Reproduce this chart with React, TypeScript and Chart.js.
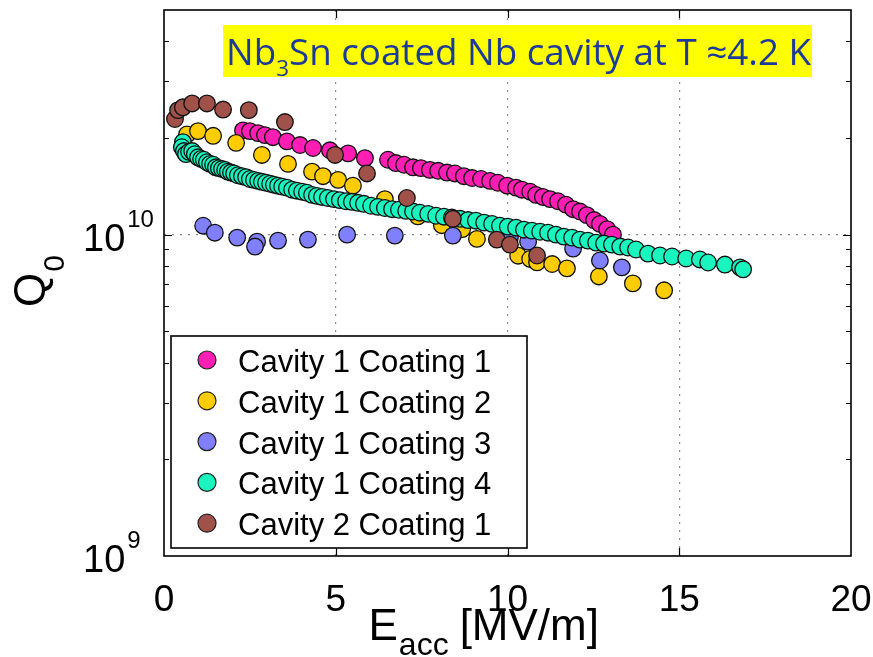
import React, { useEffect, useRef } from "react";
import { Chart, registerables } from "chart.js";

Chart.register(...registerables);

// ---------- data ----------
const SERIES_LABELS = [
  "Cavity 1 Coating 1",
  "Cavity 1 Coating 2",
  "Cavity 1 Coating 3",
  "Cavity 1 Coating 4",
  "Cavity 2 Coating 1",
];
const SERIES_COLORS = ["#FF1EB4", "#FFCC00", "#8080FF", "#1AF5C0", "#A0524A"];

const c1c1E = [2.30, 2.50, 2.74, 2.94, 3.17, 3.58, 3.96, 4.34, 4.83, 5.36, 5.85, 6.52, 6.75, 6.99, 7.25, 7.48, 7.74, 7.98, 8.24, 8.47, 8.73, 8.97, 9.23, 9.49, 9.72, 9.99, 10.25, 10.42, 10.66, 10.83, 11.03, 11.24, 11.47, 11.70, 11.91, 12.11, 12.31, 12.52, 12.69, 12.90, 13.07];
const c1c1Q = [2.11e10, 2.10e10, 2.07e10, 2.04e10, 2.01e10, 1.95e10, 1.90e10, 1.86e10, 1.83e10, 1.79e10, 1.73e10, 1.71e10, 1.67e10, 1.65e10, 1.62e10, 1.61e10, 1.59e10, 1.58e10, 1.56e10, 1.55e10, 1.52e10, 1.50e10, 1.49e10, 1.47e10, 1.45e10, 1.42e10, 1.40e10, 1.38e10, 1.36e10, 1.33e10, 1.31e10, 1.29e10, 1.27e10, 1.24e10, 1.20e10, 1.18e10, 1.15e10, 1.11e10, 1.08e10, 1.04e10, 1.00e10];

const c1c2E = [0.67, 0.99, 1.43, 2.10, 2.85, 3.61, 4.31, 4.63, 5.07, 5.50, 6.43, 7.39, 8.09, 8.68, 9.11, 10.31, 10.66, 10.86, 11.30, 11.73, 12.66, 13.65, 14.56];
const c1c2Q = [2.05e10, 2.10e10, 2.03e10, 1.93e10, 1.77e10, 1.66e10, 1.57e10, 1.52e10, 1.48e10, 1.42e10, 1.29e10, 1.14e10, 1.07e10, 1.04e10, 0.97e10, 0.86e10, 0.84e10, 0.82e10, 0.81e10, 0.785e10, 0.741e10, 0.705e10, 0.671e10];

const c1c3E = [1.14, 1.48, 2.13, 2.71, 2.65, 3.32, 4.19, 5.33, 6.72, 8.41, 10.07, 10.60, 11.91, 12.69, 13.33];
const c1c3Q = [1.066e10, 1.014e10, 0.979e10, 0.951e10, 0.918e10, 0.958e10, 0.965e10, 1.00e10, 0.993e10, 0.993e10, 0.979e10, 0.951e10, 0.905e10, 0.831e10, 0.791e10];

const c1c4E = [0.55, 0.52, 0.58, 0.64, 0.73, 0.82, 0.90, 0.99, 1.08, 1.16, 1.25, 1.34, 1.43, 1.51, 1.60, 1.69, 1.78, 1.86, 1.95, 2.04, 2.15, 2.27, 2.39, 2.50, 2.62, 2.74, 2.85, 2.97, 3.09, 3.20, 3.32, 3.44, 3.58, 3.73, 3.87, 4.02, 4.16, 4.31, 4.45, 4.60, 4.77, 4.95, 5.12, 5.30, 5.47, 5.65, 5.82, 6.03, 6.23, 6.43, 6.64, 6.84, 7.05, 7.25, 7.45, 7.69, 7.92, 8.15, 8.38, 8.62, 8.85, 9.08, 9.32, 9.55, 9.78, 10.01, 10.25, 10.48, 10.71, 10.95, 11.18, 11.41, 11.64, 11.88, 12.11, 12.34, 12.58, 12.81, 13.04, 13.28, 13.51, 13.74, 14.09, 14.44, 14.79, 15.20, 15.60, 15.84, 16.33, 16.77, 16.86];
const c1c4Q = [1.94e10, 1.87e10, 1.82e10, 1.78e10, 1.81e10, 1.82e10, 1.78e10, 1.74e10, 1.72e10, 1.71e10, 1.68e10, 1.66e10, 1.65e10, 1.62e10, 1.61e10, 1.60e10, 1.59e10, 1.57e10, 1.56e10, 1.55e10, 1.53e10, 1.52e10, 1.51e10, 1.49e10, 1.48e10, 1.47e10, 1.46e10, 1.45e10, 1.44e10, 1.43e10, 1.42e10, 1.41e10, 1.40e10, 1.38e10, 1.37e10, 1.36e10, 1.35e10, 1.33e10, 1.32e10, 1.31e10, 1.30e10, 1.29e10, 1.28e10, 1.27e10, 1.265e10, 1.256e10, 1.247e10, 1.23e10, 1.22e10, 1.21e10, 1.20e10, 1.195e10, 1.186e10, 1.18e10, 1.17e10, 1.16e10, 1.145e10, 1.137e10, 1.13e10, 1.12e10, 1.11e10, 1.105e10, 1.09e10, 1.08e10, 1.066e10, 1.059e10, 1.051e10, 1.036e10, 1.029e10, 1.021e10, 1.014e10, 1.00e10, 0.986e10, 0.979e10, 0.965e10, 0.958e10, 0.944e10, 0.938e10, 0.931e10, 0.918e10, 0.912e10, 0.899e10, 0.873e10, 0.861e10, 0.855e10, 0.843e10, 0.837e10, 0.819e10, 0.807e10, 0.791e10, 0.78e10];

const c2c1E = [0.32, 0.41, 0.55, 0.82, 1.25, 1.72, 2.47, 3.52, 4.98, 5.91, 7.07, 8.41, 9.69, 10.07, 10.86];
const c2c1Q = [2.29e10, 2.44e10, 2.49e10, 2.56e10, 2.56e10, 2.45e10, 2.44e10, 2.24e10, 1.77e10, 1.55e10, 1.30e10, 1.12e10, 0.965e10, 0.931e10, 0.861e10];

const SERIES_E = [c1c1E, c1c2E, c1c3E, c1c4E, c2c1E];
const SERIES_Q = [c1c1Q, c1c2Q, c1c3Q, c1c4Q, c2c1Q];

const X_MIN = 0;
const X_MAX = 20;
const X_STEP = 5;
const Y_MIN = 1e9;
const Y_MAX = 5e10;
const Y_TICKS = [1e9, 2e9, 3e9, 4e9, 5e9, 6e9, 7e9, 8e9, 9e9, 1e10, 2e10, 3e10, 4e10, 5e10];

const TITLE_PRE = "Nb";
const TITLE_SUB = "3";
const TITLE_POST = "Sn coated Nb cavity at T \u22484.2 K";

const SANS = '"Liberation Sans", Arial, Helvetica, sans-serif';

const isDecade = (v: number) => Math.abs(Math.log10(v) - Math.round(Math.log10(v))) < 1e-9;

const overlayPlugin = {
  id: "overlay",
  afterDraw(chart: any) {
    const ctx: CanvasRenderingContext2D = chart.ctx;
    const a = chart.chartArea;
    const xs = chart.scales.x;
    const ys = chart.scales.y;
    ctx.save();

    // inward ticks
    ctx.strokeStyle = "#000";
    ctx.lineWidth = 1.2;
    ctx.beginPath();
    xs.ticks.forEach((t: any) => {
      if (t.value <= xs.min || t.value >= xs.max) return;
      const px = Math.round(xs.getPixelForValue(t.value)) + 0.5;
      ctx.moveTo(px, a.bottom);
      ctx.lineTo(px, a.bottom - 8);
      ctx.moveTo(px, a.top);
      ctx.lineTo(px, a.top + 8);
    });
    ys.ticks.forEach((t: any) => {
      if (t.value <= ys.min || t.value >= ys.max) return;
      const py = Math.round(ys.getPixelForValue(t.value)) + 0.5;
      const len = isDecade(t.value) ? 8 : 5;
      ctx.moveTo(a.left, py);
      ctx.lineTo(a.left + len, py);
      ctx.moveTo(a.right, py);
      ctx.lineTo(a.right - len, py);
    });
    ctx.stroke();

    // frame
    ctx.lineWidth = 1.6;
    ctx.strokeRect(a.left, a.top, a.right - a.left, a.bottom - a.top);

    // x tick labels
    ctx.fillStyle = "#000";
    ctx.font = `37px ${SANS}`;
    ctx.textAlign = "center";
    ctx.textBaseline = "alphabetic";
    xs.ticks.forEach((t: any) => {
      ctx.fillText(String(t.value), xs.getPixelForValue(t.value), a.bottom + 55);
    });

    // y tick labels (decades only)
    ctx.textAlign = "left";
    ys.ticks.forEach((t: any) => {
      if (!isDecade(t.value)) return;
      const py = ys.getPixelForValue(t.value);
      const exp = Math.round(Math.log10(t.value));
      ctx.font = `38px ${SANS}`;
      ctx.fillText("10", 83, py + 16);
      const w = ctx.measureText("10").width;
      ctx.font = `24px ${SANS}`;
      ctx.fillText(String(exp), 83 + w + 2, py - 8);
    });

    // x axis title
    const midX = (a.left + a.right) / 2;
    ctx.font = `44px ${SANS}`;
    const wE = ctx.measureText("E").width;
    ctx.font = `32px ${SANS}`;
    const wAcc = ctx.measureText("acc").width;
    const x0 = midX - 139;
    ctx.font = `44px ${SANS}`;
    ctx.fillText("E", x0, a.bottom + 84);
    ctx.font = `32px ${SANS}`;
    ctx.fillText("acc", x0 + wE + 1, a.bottom + 99);
    ctx.font = `44px ${SANS}`;
    ctx.fillText("[MV/m]", x0 + wE + wAcc + 12, a.bottom + 84);

    // y axis title
    ctx.save();
    ctx.translate(45, 307);
    ctx.rotate(-Math.PI / 2);
    ctx.font = `44px ${SANS}`;
    ctx.fillText("Q", 0, 0);
    const wQ = ctx.measureText("Q").width;
    ctx.font = `30px ${SANS}`;
    ctx.fillText("0", wQ + 1, 19);
    ctx.restore();

    // legend
    const lx = a.left + 7, ly = 336, lw = 356, lh = 212;
    ctx.fillStyle = "#fff";
    ctx.fillRect(lx, ly, lw, lh);
    ctx.strokeStyle = "#000";
    ctx.lineWidth = 1.6;
    ctx.strokeRect(lx, ly, lw, lh);
    chart.data.datasets.forEach((ds: any, i: number) => {
      const ry = ly + 24 + i * 40.8;
      ctx.beginPath();
      ctx.arc(lx + 36, ry, 9, 0, Math.PI * 2);
      ctx.fillStyle = ds.backgroundColor;
      ctx.fill();
      ctx.lineWidth = 1.2;
      ctx.strokeStyle = "#222";
      ctx.stroke();
      ctx.fillStyle = "#000";
      ctx.font = `31px ${SANS}`;
      ctx.textAlign = "left";
      ctx.fillText(ds.label, lx + 67, ry + 12);
    });

    // title box
    const tx = 223, ty = 25, tw = 589, th = 52;
    ctx.fillStyle = "#FFFF00";
    ctx.fillRect(tx, ty, tw, th);
    const mainFont = `36px "Open Sans", Lato, sans-serif`;
    const subFont = `22px "Open Sans", Lato, sans-serif`;
    ctx.font = mainFont;
    const w1 = ctx.measureText(TITLE_PRE).width;
    const w3 = ctx.measureText(TITLE_POST).width;
    ctx.font = subFont;
    const w2 = ctx.measureText(TITLE_SUB).width;
    const total = w1 + w2 + w3;
    const target = 585;
    const sx = target / total;
    ctx.save();
    ctx.translate(tx + 3, ty + 40);
    ctx.scale(sx, 1);
    ctx.fillStyle = "#1B3A99";
    ctx.font = mainFont;
    ctx.fillText(TITLE_PRE, 0, 0);
    ctx.font = subFont;
    ctx.fillText(TITLE_SUB, w1, 11);
    ctx.font = mainFont;
    ctx.fillText(TITLE_POST, w1 + w2, 0);
    ctx.restore();

    ctx.restore();
  },
};

export default function App() {
  const ref = useRef<HTMLCanvasElement | null>(null);

  useEffect(() => {
    if (!ref.current) return;
    const datasets = SERIES_LABELS.map((label, i) => ({
      label,
      data: SERIES_E[i].map((e, k) => ({ x: e, y: SERIES_Q[i][k] })),
      backgroundColor: SERIES_COLORS[i],
      borderColor: "#111",
      pointBackgroundColor: SERIES_COLORS[i],
      pointBorderColor: "#111",
      pointBorderWidth: 1.3,
      pointRadius: 8.3,
      pointHoverRadius: 8.3,
      showLine: false,
      order: SERIES_LABELS.length - i,
    }));

    const chart = new Chart(ref.current, {
      type: "scatter",
      data: { datasets },
      plugins: [overlayPlugin],
      options: {
        animation: false,
        responsive: false,
        devicePixelRatio: 1,
        layout: { padding: { left: 164, right: 22, top: 10, bottom: 101 } },
        plugins: {
          legend: { display: false },
          tooltip: { enabled: false },
          title: { display: false },
        },
        scales: {
          x: {
            type: "linear",
            min: X_MIN,
            max: X_MAX,
            ticks: { stepSize: X_STEP, display: false },
            grid: {
              drawTicks: false,
              lineWidth: 1.2,
              color: (c: any) =>
                c.tick && c.tick.value > X_MIN && c.tick.value < X_MAX ? "#8c8c8c" : "rgba(0,0,0,0)",
            },
            border: { display: false, dash: [2, 6] },
          },
          y: {
            type: "logarithmic",
            min: Y_MIN,
            max: Y_MAX,
            afterBuildTicks: (scale: any) => {
              scale.ticks = Y_TICKS.map((v) => ({ value: v }));
            },
            ticks: { display: false },
            grid: {
              drawTicks: false,
              lineWidth: 1.2,
              color: (c: any) =>
                c.tick && isDecade(c.tick.value) && c.tick.value > Y_MIN && c.tick.value < Y_MAX
                  ? "#8c8c8c"
                  : "rgba(0,0,0,0)",
            },
            border: { display: false, dash: [2, 6] },
          },
        },
      },
    });
    return () => chart.destroy();
  }, []);

  return (
    <div style={{ position: "absolute", left: 0, top: 0, width: 873, height: 657, background: "#fff" }}>
      <canvas ref={ref} width={873} height={657} style={{ display: "block" }} />
    </div>
  );
}
